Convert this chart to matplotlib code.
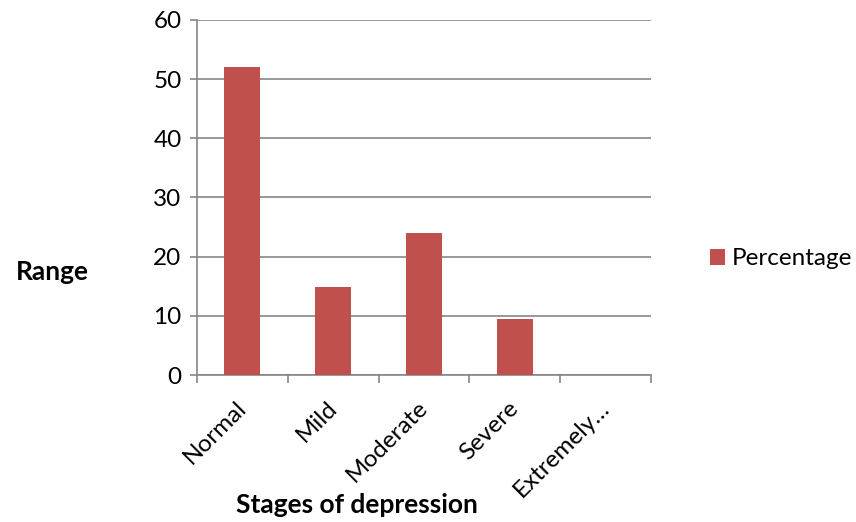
import matplotlib
matplotlib.use("Agg")
import matplotlib.pyplot as plt
import matplotlib.transforms as mtransforms
import numpy as np

categories = ["Normal", "Mild", "Moderate", "Severe", "Extremely…"]
percentage = [52, 14.8, 24, 9.4, 0]
y_ticks = [0, 10, 20, 30, 40, 50, 60]

plt.rcParams["font.family"] = ["Lato", "DejaVu Sans"]

bar_color = "#C0504D"
grid_color = "#868686"

fig = plt.figure(figsize=(8.56, 5.22), dpi=100)
ax = fig.add_axes([0.230, 0.2816, 0.5305, 0.6801])

x = np.arange(len(categories))
bars = ax.bar(x, percentage, width=0.4, color=bar_color, label="Percentage", zorder=3)

ax.set_xlim(-0.5, len(categories) - 0.5)
ax.set_ylim(0, 60)
ax.set_yticks(y_ticks)
ax.yaxis.grid(True, color=grid_color, linewidth=1.2, zorder=0)

for side in ["top", "right"]:
    ax.spines[side].set_visible(False)
for side in ["left", "bottom"]:
    ax.spines[side].set_color(grid_color)
    ax.spines[side].set_linewidth(1.2)

ax.set_xticks(x)
ax.set_xticklabels(categories, rotation=45, ha="right", rotation_mode="anchor", fontsize=17.5)
ax.tick_params(axis="x", which="major", length=0, pad=16)
shift = mtransforms.ScaledTranslation(-7 / 100, 0, fig.dpi_scale_trans)
for lbl in ax.get_xticklabels():
    lbl.set_transform(lbl.get_transform() + shift)
ax.set_xticks(np.arange(-0.5, len(categories)), minor=True)
ax.tick_params(axis="x", which="minor", length=6, width=1.2, color=grid_color, direction="out")
ax.tick_params(axis="y", length=5, width=1.2, color=grid_color, labelsize=17.5, pad=6)

ax.set_xlabel("Stages of depression", fontsize=19, fontweight="bold", va="center", ha="center")
ax.xaxis.set_label_coords(0.352, -0.366)
ax.set_ylabel("Range", fontsize=19, fontweight="bold", rotation=0, va="center", ha="center")
ax.yaxis.set_label_coords(-0.318, 0.29)

ax.legend(loc="center left", bbox_to_anchor=(1.082, 0.327), frameon=False, fontsize=17.5,
          handlelength=0.6, handleheight=0.6, handletextpad=0.3)

fig.savefig("out.png", dpi=100)
